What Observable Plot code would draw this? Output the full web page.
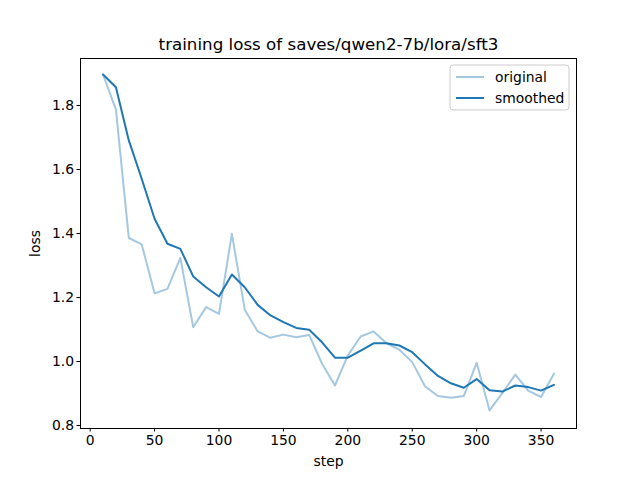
<!DOCTYPE html>
<html>
<head>
<meta charset="utf-8">
<script src="https://cdn.jsdelivr.net/npm/d3@7"></script>
<script src="https://cdn.jsdelivr.net/npm/@observablehq/plot@0.6"></script>
<style>
body { margin: 0; background: #fff; }
svg { font-family: "DejaVu Sans", sans-serif; }
</style>
</head>
<body>
<div id="chart"></div>
<script>
const steps = [10,20,30,40,50,60,70,80,90,100,110,120,130,140,150,160,170,180,190,200,210,220,230,240,250,260,270,280,290,300,310,320,330,340,350,360];
const original = [1.897,1.787,1.386,1.366,1.213,1.227,1.324,1.107,1.170,1.149,1.399,1.162,1.094,1.074,1.084,1.076,1.083,0.993,0.925,1.019,1.078,1.094,1.057,1.037,0.998,0.922,0.892,0.887,0.892,0.996,0.847,0.902,0.959,0.909,0.889,0.962];
const smoothed = [1.897,1.857,1.691,1.571,1.446,1.368,1.352,1.266,1.232,1.203,1.272,1.232,1.177,1.144,1.123,1.105,1.099,1.060,1.012,1.012,1.034,1.057,1.057,1.050,1.029,0.991,0.955,0.932,0.918,0.945,0.910,0.906,0.925,0.920,0.909,0.927];
const xTicks = [0,50,100,150,200,250,300,350];
const yTicks = [0.8,1.0,1.2,1.4,1.6,1.8];
const seriesNames = ["original","smoothed"];
const seriesColors = ["#a5c8e1","#1f77b4"];
const title = "training loss of saves/qwen2-7b/lora/sft3";

const origData = steps.map((s,i)=>({step:s, loss:original[i]}));
const smoothData = steps.map((s,i)=>({step:s, loss:smoothed[i]}));

const chart = Plot.plot({
  width: 640, height: 480,
  marginLeft: 80, marginRight: 64, marginTop: 58, marginBottom: 52,
  style: {fontFamily: "DejaVu Sans, sans-serif", fontSize: "13.9px", color: "#000", background: "#fff"},
  x: {domain: [-7.5, 377.5]},
  y: {domain: [0.7906, 1.947]},
  marks: [
    Plot.line(origData, {x:"step", y:"loss", stroke: seriesColors[0], strokeWidth: 2}),
    Plot.line(smoothData, {x:"step", y:"loss", stroke: seriesColors[1], strokeWidth: 2}),
    Plot.frame({stroke:"#000", strokeWidth: 1}),
    Plot.axisX({ticks: xTicks, tickSize: 3.5, tickPadding: 3, label: "step", labelAnchor: "center", labelArrow: "none", labelOffset: 37, fontSize: 13.9}),
    Plot.axisY({ticks: yTicks, tickFormat: d => d.toFixed(1), tickSize: 3.5, tickPadding: 3, label: "loss", labelAnchor: "center", labelArrow: "none", labelOffset: 50, fontSize: 13.9}),
    Plot.text([title], {frameAnchor: "top", lineAnchor: "bottom", dy: -9, fontSize: 16.7, fill: "#000"})
  ]
});
document.getElementById("chart").appendChild(chart);

// legend
const svg = d3.select(chart);
const lg = svg.append("g").attr("transform", "translate(450,65)");
lg.append("rect").attr("x",0).attr("y",0).attr("width",119).attr("height",45).attr("rx",3)
  .attr("fill","#fff").attr("fill-opacity",0.8).attr("stroke","#ccc").attr("stroke-width",1);
seriesNames.forEach((name,i)=>{
  const y = 12 + i*21;
  lg.append("line").attr("x1",6).attr("x2",34).attr("y1",y).attr("y2",y)
    .attr("stroke",seriesColors[i]).attr("stroke-width",2);
  lg.append("text").attr("x",45).attr("y",y).attr("dy","0.35em").attr("text-anchor","start")
    .attr("font-size","13.9px").attr("font-family","DejaVu Sans, sans-serif").attr("fill","#000").text(name);
});
</script>
</body>
</html>
